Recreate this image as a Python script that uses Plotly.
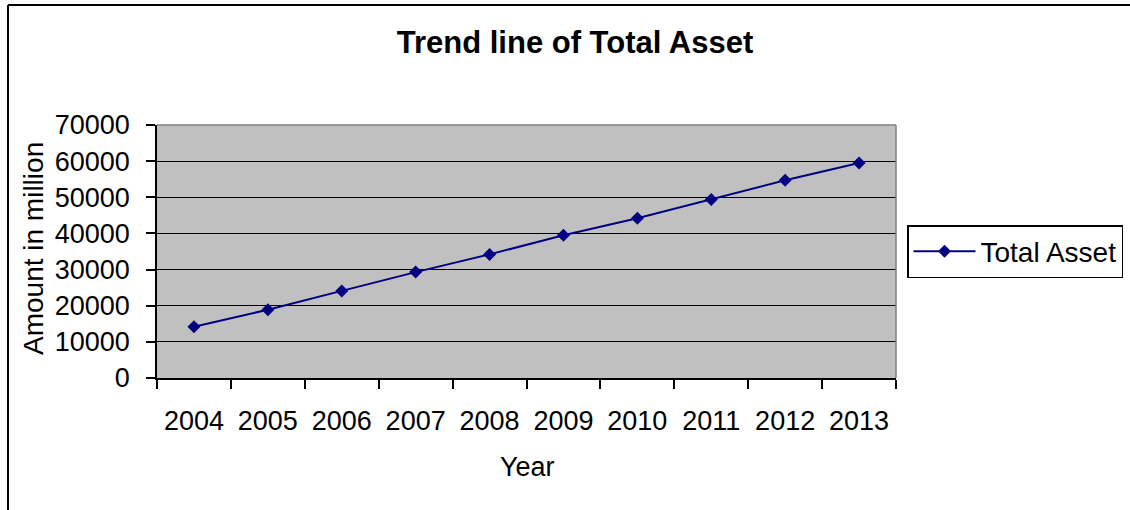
import plotly.graph_objects as go

years = ["2004", "2005", "2006", "2007", "2008", "2009", "2010", "2011", "2012", "2013"]
total_asset = [14200, 18900, 24100, 29300, 34200, 39500, 44200, 49400, 54700, 59500]
y_ticks = [0, 10000, 20000, 30000, 40000, 50000, 60000, 70000]
y_tick_text = [str(v) for v in y_ticks]

W, H = 1130, 510
L, R, T, B = 157, 896, 125, 378

def px(x):
    return (x - L) / (R - L)

def py(y):
    return (B - y) / (B - T)

FONT = "Liberation Sans, Arial, sans-serif"

fig = go.Figure()
fig.add_trace(go.Scatter(
    x=years, y=total_asset, mode="lines+markers", name="Total Asset",
    line=dict(color="#000080", width=2),
    marker=dict(symbol="diamond", size=10, color="#000080"),
))

fig.update_layout(
    width=W, height=H,
    margin=dict(l=L, r=W - R, t=T, b=H - B, pad=0, autoexpand=False),
    paper_bgcolor="white", plot_bgcolor="#C0C0C0",
    font=dict(family=FONT, size=27, color="black"),
    title=dict(text="<b>Trend line of Total Asset</b>", x=575 / W, xref="container",
               xanchor="center", y=1 - 42 / H, yref="container", yanchor="middle",
               font=dict(size=31, family=FONT, color="black")),
    showlegend=True,
    legend=dict(x=907 / W, y=1 - 225 / H, xref="container", yref="container",
                xanchor="left", yanchor="top",
                bordercolor="black", borderwidth=1.5, bgcolor="white",
                itemwidth=62, font=dict(size=28, family=FONT)),
    xaxis=dict(type="category", range=[-0.5, 9.5], showgrid=False,
               ticks="outside", tickson="boundaries", ticklen=9,
               tickcolor="black", tickwidth=1.5, showline=True,
               linecolor="black", linewidth=1.5, ticklabelstandoff=18,
               automargin=False, tickfont=dict(size=27, family=FONT)),
    yaxis=dict(range=[0, 70000], tickvals=y_ticks, ticktext=y_tick_text,
               showgrid=True, gridcolor="black", gridwidth=1, zeroline=False,
               ticks="outside", ticklen=9, tickcolor="black", tickwidth=1.5,
               showline=True, linecolor="black", linewidth=1.5,
               automargin=False, ticklabelstandoff=11,
               tickfont=dict(size=27, family=FONT)),
    annotations=[
        dict(text="Year", xref="paper", yref="paper", x=px(527), y=py(467),
             xanchor="center", yanchor="middle", showarrow=False,
             font=dict(size=27, family=FONT)),
        dict(text="Amount in million", xref="paper", yref="paper", x=px(33),
             y=py(248), xanchor="center", yanchor="middle", textangle=-90,
             showarrow=False, font=dict(size=28, family=FONT)),
    ],
    shapes=[
        dict(type="line", xref="paper", yref="paper", x0=0, x1=1, y0=1, y1=1,
             line=dict(color="#808080", width=1.5), layer="above"),
        dict(type="line", xref="paper", yref="paper", x0=1, x1=1, y0=0, y1=1,
             line=dict(color="#808080", width=1.5), layer="above"),
        dict(type="line", xref="paper", yref="paper", x0=px(8), x1=px(8),
             y0=py(520), y1=py(5), line=dict(color="black", width=2),
             layer="above"),
        dict(type="line", xref="paper", yref="paper", x0=px(8), x1=px(1140),
             y0=py(5), y1=py(5), line=dict(color="black", width=2),
             layer="above"),
    ],
)

fig.write_html(
    "out.html",
    config={"displayModeBar": False},
    post_script="document.body.style.margin='0';document.body.style.overflow='hidden';",
)
